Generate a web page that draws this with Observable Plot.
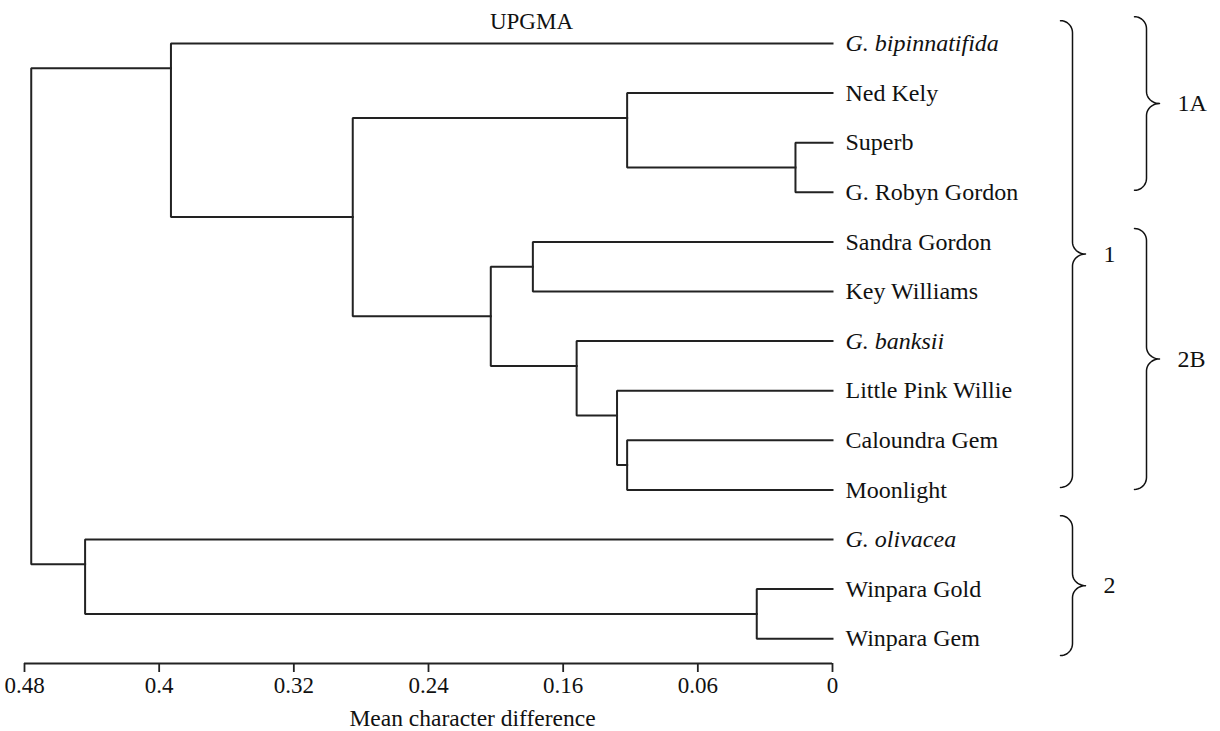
<!DOCTYPE html>
<html>
<head>
<meta charset="utf-8">
<script src="https://cdn.jsdelivr.net/npm/d3@7"></script>
<script src="https://cdn.jsdelivr.net/npm/@observablehq/plot@0.6"></script>
<style>
  html, body { margin: 0; padding: 0; background: #fff; }
</style>
</head>
<body>
<div id="chart"></div>
<script>
// ---- data ----
const leafNames = ["G. bipinnatifida", "Ned Kely", "Superb", "G. Robyn Gordon", "Sandra Gordon",
  "Key Williams", "G. banksii", "Little Pink Willie", "Caloundra Gem", "Moonlight",
  "G. olivacea", "Winpara Gold", "Winpara Gem"];
const italicNames = ["G. bipinnatifida", "G. banksii", "G. olivacea"];

// clusters (children listed before parents)
const nodeNames  = ["D", "I", "F", "W", "H", "C", "G", "E", "B", "A", "J", "root"];
const nodeLeft   = ["Superb", "Caloundra Gem", "Sandra Gordon", "Winpara Gold", "Little Pink Willie",
  "Ned Kely", "G. banksii", "F", "C", "G. bipinnatifida", "G. olivacea", "A"];
const nodeRight  = ["G. Robyn Gordon", "Moonlight", "Key Williams", "Winpara Gem", "I",
  "D", "H", "G", "E", "B", "W", "J"];
const nodeHeights = [0.022, 0.122, 0.178, 0.045, 0.128, 0.122, 0.152, 0.203, 0.285, 0.393, 0.444, 0.476];

const tickValues = [0.48, 0.4, 0.32, 0.24, 0.16, 0.08, 0];
const tickLabels = ["0.48", "0.4", "0.32", "0.24", "0.16", "0.06", "0"];

const braceLabels    = ["1", "1A", "2B", "2"];
const braceTopRow    = [-0.46, -0.54, 3.73, 9.52];
const braceBottomRow = [8.95, 2.96, 8.99, 12.34];
const braceColumn    = ["inner", "outer", "outer", "inner"];

// ---- layout ----
const W = 1220, H = 731;
const mL = 24, mR = 388, mT = 43, mB = 68;
const yMax = leafNames.length - 0.5;
const font = "'Liberation Serif', 'Times New Roman', serif";
const ink = "#222";

const xs = d3.scaleLinear().domain([0.48, 0]).range([mL, W - mR]);
const ys = d3.scaleLinear().domain([0, yMax]).range([mT, H - mB]);

// ---- build tree geometry from data ----
const rowOf = new Map(leafNames.map((n, i) => [n, i]));
const hOf = new Map(leafNames.map(n => [n, 0]));
const isLeaf = n => leafNames.includes(n);
const treePts = [];
nodeNames.forEach((name, i) => {
  const a = nodeLeft[i], b = nodeRight[i];
  const ya = rowOf.get(a), yb = rowOf.get(b);
  let y;
  if (isLeaf(a) && !isLeaf(b)) y = ya + 0.5 * Math.sign(yb - ya);
  else if (!isLeaf(a) && isLeaf(b)) y = yb + 0.5 * Math.sign(ya - yb);
  else y = (ya + yb) / 2;
  rowOf.set(name, y);
  hOf.set(name, nodeHeights[i]);
  const h = nodeHeights[i];
  treePts.push({node: name, x: hOf.get(a), y: ya});
  treePts.push({node: name, x: h, y: ya});
  treePts.push({node: name, x: h, y: yb});
  treePts.push({node: name, x: hOf.get(b), y: yb});
});

const leaves = leafNames.map((n, i) => ({name: n, row: i, italic: italicNames.includes(n)}));

// ---- braces ----
const colX0 = {inner: 1060, outer: 1134};
const bracePts = [];
const braceText = [];
braceLabels.forEach((lab, i) => {
  const x0 = colX0[braceColumn[i]], xv = x0 + 12, xt = x0 + 25;
  const y0 = ys(braceTopRow[i]), y1 = ys(braceBottomRow[i]), ym = (y0 + y1) / 2;
  const hk = 12, tp = 12, n = 10;
  const pts = [];
  for (let k = 0; k <= n; k++) { const t = k / n * Math.PI / 2;
    pts.push([x0 + (xv - x0) * Math.sin(t), y0 + hk * (1 - Math.cos(t))]); }
  for (let k = 0; k <= n; k++) { const t = k / n * Math.PI / 2;
    pts.push([xv + (xt - xv) * (1 - Math.cos(t)), ym - tp + tp * Math.sin(t)]); }
  for (let k = 0; k <= n; k++) { const t = k / n * Math.PI / 2;
    pts.push([xt - (xt - xv) * Math.sin(t), ym + tp * (1 - Math.cos(t))]); }
  for (let k = 0; k <= n; k++) { const t = k / n * Math.PI / 2;
    pts.push([xv - (xv - x0) * (1 - Math.cos(t)), y1 - hk + hk * Math.sin(t)]); }
  pts.forEach(([px, py]) => bracePts.push({b: lab, x: xs.invert(px), y: ys.invert(py)}));
  braceText.push({label: lab, x: xs.invert(xt + 18), y: ys.invert(ym)});
});

const labelMap = new Map(tickValues.map((v, i) => [v, tickLabels[i]]));

const chart = Plot.plot({
  width: W, height: H,
  marginLeft: mL, marginRight: mR, marginTop: mT, marginBottom: mB,
  style: {fontFamily: font, fontSize: "23px", color: ink, background: "#fff", overflow: "visible"},
  x: {domain: [0.48, 0], axis: null, label: null},
  y: {domain: [0, yMax], reverse: true, axis: null},
  marks: [
    Plot.line(treePts, {x: "x", y: "y", z: "node", stroke: ink, strokeWidth: 2, strokeLinejoin: "miter", strokeLinecap: "square"}),
    Plot.text(leaves.filter(d => !d.italic), {x: 0, y: "row", text: "name", textAnchor: "start", dx: 13, fill: "#111", fontSize: 24}),
    Plot.text(leaves.filter(d => d.italic), {x: 0, y: "row", text: "name", textAnchor: "start", dx: 13, fill: "#111", fontSize: 24, fontStyle: "italic"}),
    Plot.line(bracePts, {x: "x", y: "y", z: "b", stroke: "#111", strokeWidth: 1.5}),
    Plot.text(braceText, {x: "x", y: "y", text: "label", textAnchor: "start", fill: "#111", fontSize: 24}),
    Plot.ruleY([yMax], {x1: d3.max(tickValues), x2: d3.min(tickValues), stroke: ink, strokeWidth: 2.2}),
    Plot.axisX(tickValues, {anchor: "bottom", label: null, tickSize: 9, tickPadding: 4, strokeWidth: 1.8, stroke: ink,
      tickFormat: d => labelMap.get(d), fill: "#111", fontSize: 23}),
    Plot.text(["UPGMA"], {frameAnchor: "top", dx: 103, dy: -22, lineAnchor: "middle", fill: "#111"}),
    Plot.text(["Mean character difference"], {frameAnchor: "bottom", dx: 44, dy: 55, lineAnchor: "middle", fill: "#111", fontSize: 23.5})
  ]
});
document.getElementById("chart").appendChild(chart);
</script>
</body>
</html>
